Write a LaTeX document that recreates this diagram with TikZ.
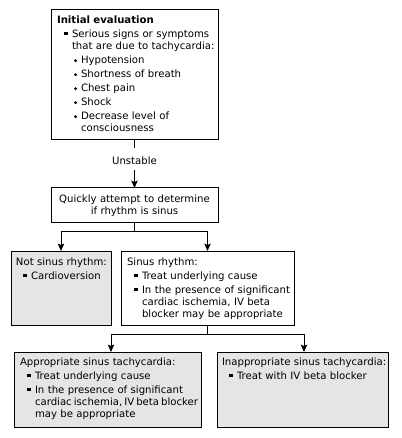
\documentclass[tikz,border=0pt]{standalone}
\usepackage{fontspec}
\setmainfont{DejaVu Sans}
\usetikzlibrary{arrows.meta,calc}
\newdimen\px \px=0.75pt
\newcommand{\sqb}{\rule[1.2pt]{2.8pt}{2.8pt}}
\newcommand{\rdb}{\raisebox{0.6pt}{\tikz\fill (0,0) circle (1.15pt);}}
\newcommand{\fl}{\rule{0pt}{7pt}}
\newcommand{\Ls}[1]{\leftskip=#1\px\noindent\llap{\makebox[8\px][l]{\sqb}}}
\newcommand{\Lr}[1]{\leftskip=#1\px\noindent\llap{\makebox[7\px][l]{\rdb}}}
\tikzset{
  box/.style={draw, line width=0.75pt, inner sep=0pt, outer sep=0pt},
  gbox/.style={box, fill=black!10},
  txt/.style={inner sep=0pt, outer sep=0pt, anchor=north west, text width=180pt,
    font=\fontsize{7.6}{9}\selectfont},
  conn/.style={line width=0.75pt},
  arr/.style={conn, -{Stealth[length=5.5pt,width=4.8pt,inset=1pt]}}
}
\begin{document}
\begin{tikzpicture}[x=0.75pt,y=-0.75pt]
\useasboundingbox (0,0) rectangle (402,438);
% boxes
\node[box, minimum width=125.25pt, minimum height=97.5pt] (b1) at (134.5,75) {};
\node[box, minimum width=125.25pt, minimum height=25.5pt] (b2) at (134.5,205) {};
\node[gbox, minimum width=75pt, minimum height=55.5pt] (b3) at (61,288) {};
\node[box, minimum width=129.75pt, minimum height=55.5pt] (b4) at (207.5,288) {};
\node[gbox, minimum width=140.25pt, minimum height=56.25pt] (b5) at (107.5,389.5) {};
\node[gbox, minimum width=128.25pt, minimum height=56.25pt] (b6) at (302.5,389.5) {};
% texts
\node[txt] (t1) at (57,13.7) {\raggedright\parskip=1.5pt
\fl\textbf{Initial evaluation}\par
\Ls{15}Serious signs or symptoms\\that are due to tachycardia:\par
\Lr{24}Hypotension\par
\Lr{24}Shortness of breath\par
\Lr{24}Chest pain\par
\Lr{24}Shock\par
\Lr{24}Decrease level of\\consciousness\par};
\node[txt, anchor=north, text width=125pt, align=center] (t2) at (134.5,192.7)
  {\fl Quickly attempt to determine\\if rhythm is sinus};
\node[txt] (t3) at (16,255.7) {\raggedright\parskip=1.5pt
\fl Not sinus rhythm:\par
\Ls{15}Cardioversion\par};
\node[txt] (t4) at (127,255.7) {\raggedright\parskip=1.5pt
\fl Sinus rhythm:\par
\Ls{15}Treat underlying cause\par
\Ls{15}In the presence of significant\\cardiac ischemia, IV beta\\blocker may be appropriate\par};
\node[txt] (t5) at (20,355.7) {\raggedright\parskip=1.5pt
\fl Appropriate sinus tachycardia:\par
\Ls{15}Treat underlying cause\par
\Ls{15}In the presence of significant\\{\spaceskip=0.2em plus 0.05em\relax cardiac ischemia, IV beta blocker}\\may be appropriate\par};
\node[txt] (t6) at (222,355.7) {\raggedright\parskip=1.5pt
\fl Inappropriate sinus tachycardia:\par
\Ls{15}Treat with IV beta blocker\par};
\node[inner sep=0pt, anchor=base, font=\fontsize{7.6}{9}\selectfont] (un) at (134.5,165) {Unstable};
% connectors
\coordinate (c1) at (134.5,148);
\coordinate (c2) at (134.5,170);
\draw[conn] (b1.south) -- (c1);
\draw[arr] (c2) -- (b2.north);
\draw[conn] (b2.south) -- ++(0,9) coordinate (j1);
\draw[arr] (j1) -| (b3.north);
\draw[arr] (j1) -| (b4.north);
\draw[conn] (b4.south) -- ++(0,9) coordinate (j2);
\draw[arr] (j2) -| ($(b5.north)+(3.5,0)$);
\draw[arr] (j2) -| ($(b6.north)+(1.5,0)$);
\end{tikzpicture}
\end{document}
